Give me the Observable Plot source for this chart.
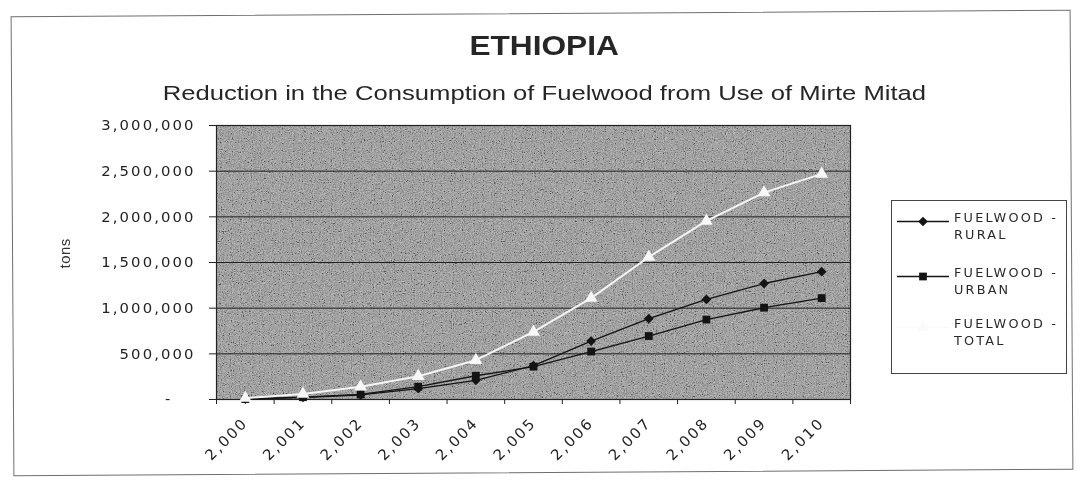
<!DOCTYPE html>
<html>
<head>
<meta charset="utf-8">
<script src="https://cdn.jsdelivr.net/npm/d3@7"></script>
<script src="https://cdn.jsdelivr.net/npm/@observablehq/plot@0.6"></script>
<style>
  html, body { margin: 0; padding: 0; background: #fff; }
  #page { position: relative; width: 1081px; height: 489px; overflow: hidden; background: #fff; font-family: "Liberation Sans", Arial, sans-serif; color: #262626; }
  #border { position: absolute; left: 12px; top: 13px; width: 1058px; height: 458px; border: 1.5px solid #6f6f6f; transform: rotate(-0.35deg); }
  .hd { position: absolute; left: 0; width: 1088px; text-align: center; }
  .hd span { display: inline-block; transform-origin: 50% 50%; white-space: nowrap; }
  #title { top: 30px; font-size: 28px; font-weight: bold; }
  #title span { transform: scaleX(1.13); }
  #subtitle { top: 81px; font-size: 20.5px; }
  #subtitle span { transform: scaleX(1.25); }
  #chart { position: absolute; left: 0; top: 110px; }
  #legend { position: absolute; left: 891px; top: 200px; width: 174px; height: 172px; border: 1.5px solid #444; background: #fff; }
  .item { position: absolute; left: 4px; }
  .item svg { position: absolute; left: 0; }
  .item .lab { position: absolute; left: 58px; font-family: "DejaVu Sans", sans-serif; font-size: 12.8px; letter-spacing: 2.2px; line-height: 17px; white-space: nowrap; color: #2a2a2a; }
</style>
</head>
<body>
<div id="page">
  <div id="border"></div>
  <div id="title" class="hd"><span></span></div>
  <div id="subtitle" class="hd"><span></span></div>
  <div id="chart"></div>
  <div id="legend"></div>
</div>
<script>
// ---- data ----
const titleText = "ETHIOPIA";
const subtitleText = "Reduction in the Consumption of Fuelwood from Use of Mirte Mitad";
const yLabel = "tons";
const years = [2000, 2001, 2002, 2003, 2004, 2005, 2006, 2007, 2008, 2009, 2010];
const rural = [5000, 22000, 50000, 120000, 210000, 370000, 640000, 885000, 1095000, 1270000, 1400000];
const urban = [5000, 25000, 55000, 140000, 260000, 360000, 525000, 695000, 875000, 1005000, 1110000];
const total = [15000, 60000, 140000, 255000, 430000, 740000, 1110000, 1560000, 1955000, 2265000, 2470000];
const yTicks = [0, 500000, 1000000, 1500000, 2000000, 2500000, 3000000];
const seriesNames = ["FUELWOOD - RURAL", "FUELWOOD - URBAN", "FUELWOOD - TOTAL"];

document.querySelector("#title span").textContent = titleText;
document.querySelector("#subtitle span").textContent = subtitleText;

const rows = years.map((yr, i) => ({year: yr, rural: rural[i], urban: urban[i], total: total[i]}));
const bounds = d3.range(years[0] - 0.5, years[years.length - 1] + 1, 1);

const fmtY = d => d === 0 ? "-\u2007\u2007" : d3.format(",")(d);

const dark = "#141414";
const plot = Plot.plot({
  width: 1081,
  height: 379,
  marginLeft: 216,
  marginRight: 231,
  marginTop: 15,
  marginBottom: 90,
  style: {fontFamily: "'DejaVu Sans', sans-serif", fontSize: "14.8px", color: "#232323", background: "transparent", letterSpacing: "2.1px"},
  x: {type: "linear", domain: [years[0] - 0.5, years[years.length - 1] + 0.5]},
  y: {domain: [0, 3000000]},
  marks: [
    Plot.frame({fill: "#898989", stroke: null}),
    Plot.gridY({ticks: yTicks.slice(1), stroke: dark, strokeOpacity: 0.9, strokeWidth: 1}),
    Plot.frame({stroke: "#222", strokeWidth: 1.2}),
    Plot.axisY({ticks: yTicks, tickFormat: fmtY, tickSize: 7, tickPadding: 14, label: null, stroke: "#222"}),
    Plot.axisX({ticks: bounds, tickFormat: () => "", tickSize: 5, label: null, stroke: "#222"}),
    Plot.axisX({ticks: years, tickFormat: d3.format(","), tickSize: 0, tickRotate: -45, tickPadding: 21, label: null}),
    Plot.text([yLabel], {frameAnchor: "left", dx: -151, dy: 6, rotate: -90, fontSize: 15, fontFamily: "'Liberation Sans', Arial, sans-serif", fill: "#333"}),
    Plot.line(rows, {x: "year", y: "urban", stroke: dark, strokeWidth: 1.3}),
    Plot.line(rows, {x: "year", y: "rural", stroke: dark, strokeWidth: 1.3}),
    Plot.dot(rows, {x: "year", y: "urban", symbol: "square", fill: dark, r: 4.4}),
    Plot.dot(rows, {x: "year", y: "rural", symbol: "diamond2", fill: dark, r: 4.4}),
    Plot.line(rows, {x: "year", y: "total", stroke: "#f4f4f4", strokeWidth: 2}),
    Plot.dot(rows, {x: "year", y: "total", symbol: "triangle", fill: "#f7f7f7", r: 4.8})
  ]
});
document.getElementById("chart").appendChild(plot);

// photocopy grain on the plot background
(function addGrain() {
  const svg = d3.select(plot);
  const defs = svg.insert("defs", ":first-child");
  const f = defs.append("filter").attr("id", "grain").attr("x", 0).attr("y", 0).attr("width", 1).attr("height", 1);
  f.append("feTurbulence").attr("type", "fractalNoise").attr("baseFrequency", 0.9).attr("numOctaves", 2).attr("seed", 3).attr("stitchTiles", "stitch");
  f.append("feColorMatrix").attr("type", "matrix").attr("values", "0.33 0.33 0.33 0 0  0.33 0.33 0.33 0 0  0.33 0.33 0.33 0 0  0 0 0 0 1");
  const ct = f.append("feComponentTransfer");
  ["feFuncR", "feFuncG", "feFuncB"].forEach(fn => ct.append(fn).attr("type", "linear").attr("slope", 3).attr("intercept", -1));
  let node = svg.select('[aria-label="frame"]').node();
  if (node && node.tagName.toLowerCase() !== "rect") node = node.querySelector("rect");
  if (node) {
    const r = node.cloneNode(false);
    r.removeAttribute("aria-label");
    r.setAttribute("fill", "#000");
    r.setAttribute("stroke", "none");
    r.setAttribute("filter", "url(#grain)");
    r.setAttribute("opacity", "0.45");
    r.style.mixBlendMode = "overlay";
    node.parentNode.insertBefore(r, node.nextSibling);
  }
  svg.selectAll("text").filter(function() { return this.textContent === yLabel; }).style("letter-spacing", "0.5px");
})();

// legend
const legend = document.getElementById("legend");
const legendItems = [
  {name: seriesNames[0], top: 8, stroke: dark, sym: "diamond"},
  {name: seriesNames[1], top: 63, stroke: dark, sym: "square"},
  {name: seriesNames[2], top: 114, stroke: "#fafafa", sym: "triangle"}
];
legendItems.forEach(it => {
  const d = document.createElement("div");
  d.className = "item";
  d.style.top = it.top + "px";
  const s = d3.create("svg").attr("width", 54).attr("height", 18);
  s.append("line").attr("x1", 1).attr("x2", 53).attr("y1", 12.5).attr("y2", 12.5).attr("stroke", it.stroke).attr("stroke-width", 1.3);
  const sym = it.sym === "diamond" ? d3.symbolDiamond2 : it.sym === "square" ? d3.symbolSquare : d3.symbolTriangle;
  s.append("path").attr("transform", "translate(27,12.5)").attr("d", d3.symbol(sym, 60)()).attr("fill", it.stroke);
  d.appendChild(s.node());
  const lab = document.createElement("div");
  lab.className = "lab";
  const parts = it.name.split(" - ");
  lab.innerHTML = parts[0] + " -<br>" + parts[1];
  d.appendChild(lab);
  legend.appendChild(d);
});
</script>
</body>
</html>
